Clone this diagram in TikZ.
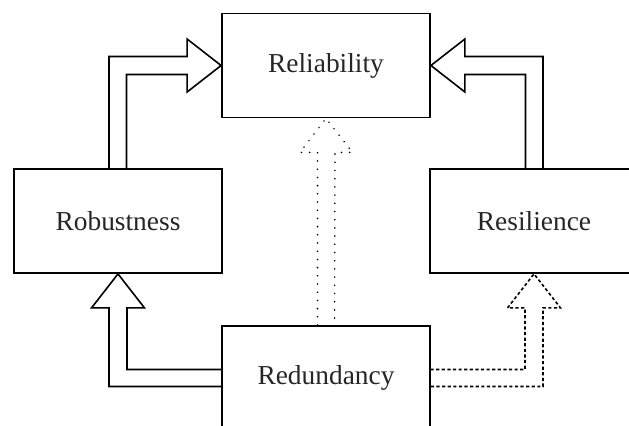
\documentclass[tikz,border=0pt]{standalone}
\usepackage{fontspec}
\setmainfont{Liberation Serif}
\usepackage{tikz}
\usetikzlibrary{positioning, calc}

\begin{document}
\begin{tikzpicture}[
  x=0.5pt, y=-0.5pt,
  every node/.style={font=\fontsize{13.7}{16}\selectfont, text=black!85},
  block/.style={draw, line width=0.9pt, minimum width=104pt, minimum height=52pt, inner sep=0pt, fill=white},
  blockarrow/.style={draw, line width=0.8pt, line join=miter}
]
\useasboundingbox (0,0) rectangle (629,425);
\clip (0,0) rectangle (629,425);

% Boxes
\node[block] (rel) at (326, 65.5) {Reliability};
\node[block] (rob) at (118, 221) {Robustness};
\node[block] (res) at (534, 221) {Resilience};
\node[block] (red) at (326, 378) {Redundancy};

% Robustness -> Reliability
\draw[blockarrow] ($(rob.north)+(-9,0)$) |- ($(rel.west)+(-34,-9)$) -- ++(0,-17.5)
  -- (rel.west) -- ($(rel.west)+(-34,26.5)$) -- ++(0,-17.5) -| ($(rob.north)+(8.5,0)$);

% Resilience -> Reliability
\draw[blockarrow] ($(res.north)+(9,0)$) |- ($(rel.east)+(34,-9)$) -- ++(0,-17.5)
  -- (rel.east) -- ($(rel.east)+(34,26.5)$) -- ++(0,-17.5) -| ($(res.north)+(-8.5,0)$);

% Redundancy -> Robustness
\draw[blockarrow] ($(red.west)+(0,8.5)$) -| ($(rob.south)+(-9,34)$) -- ++(-17.5,0)
  -- (rob.south) -- ($(rob.south)+(26.5,34)$) -- ++(-17.5,0) |- ($(red.west)+(0,-8.5)$);

% Redundancy -> Resilience (dashed)
\draw[blockarrow, dash pattern=on 1.6pt off 1.2pt] ($(red.east)+(0,8.5)$) -| ($(res.south)+(9,34)$) -- ++(17.5,0)
  -- (res.south) -- ($(res.south)+(-26.5,34)$) -- ++(17.5,0) |- ($(red.east)+(0,-8.5)$);

% Redundancy -> Reliability (dotted)
\draw[blockarrow, line cap=round, dash pattern=on 0.1pt off 4pt] ($(red.north)+(-8.5,0)$) -- ($(rel.south)+(-8.5,34)$) -- ++(-17.5,0)
  -- (rel.south) -- ($(rel.south)+(26.5,34)$) -- ++(-17.5,0) -- ($(red.north)+(8.5,0)$);

\end{tikzpicture}
\end{document}
